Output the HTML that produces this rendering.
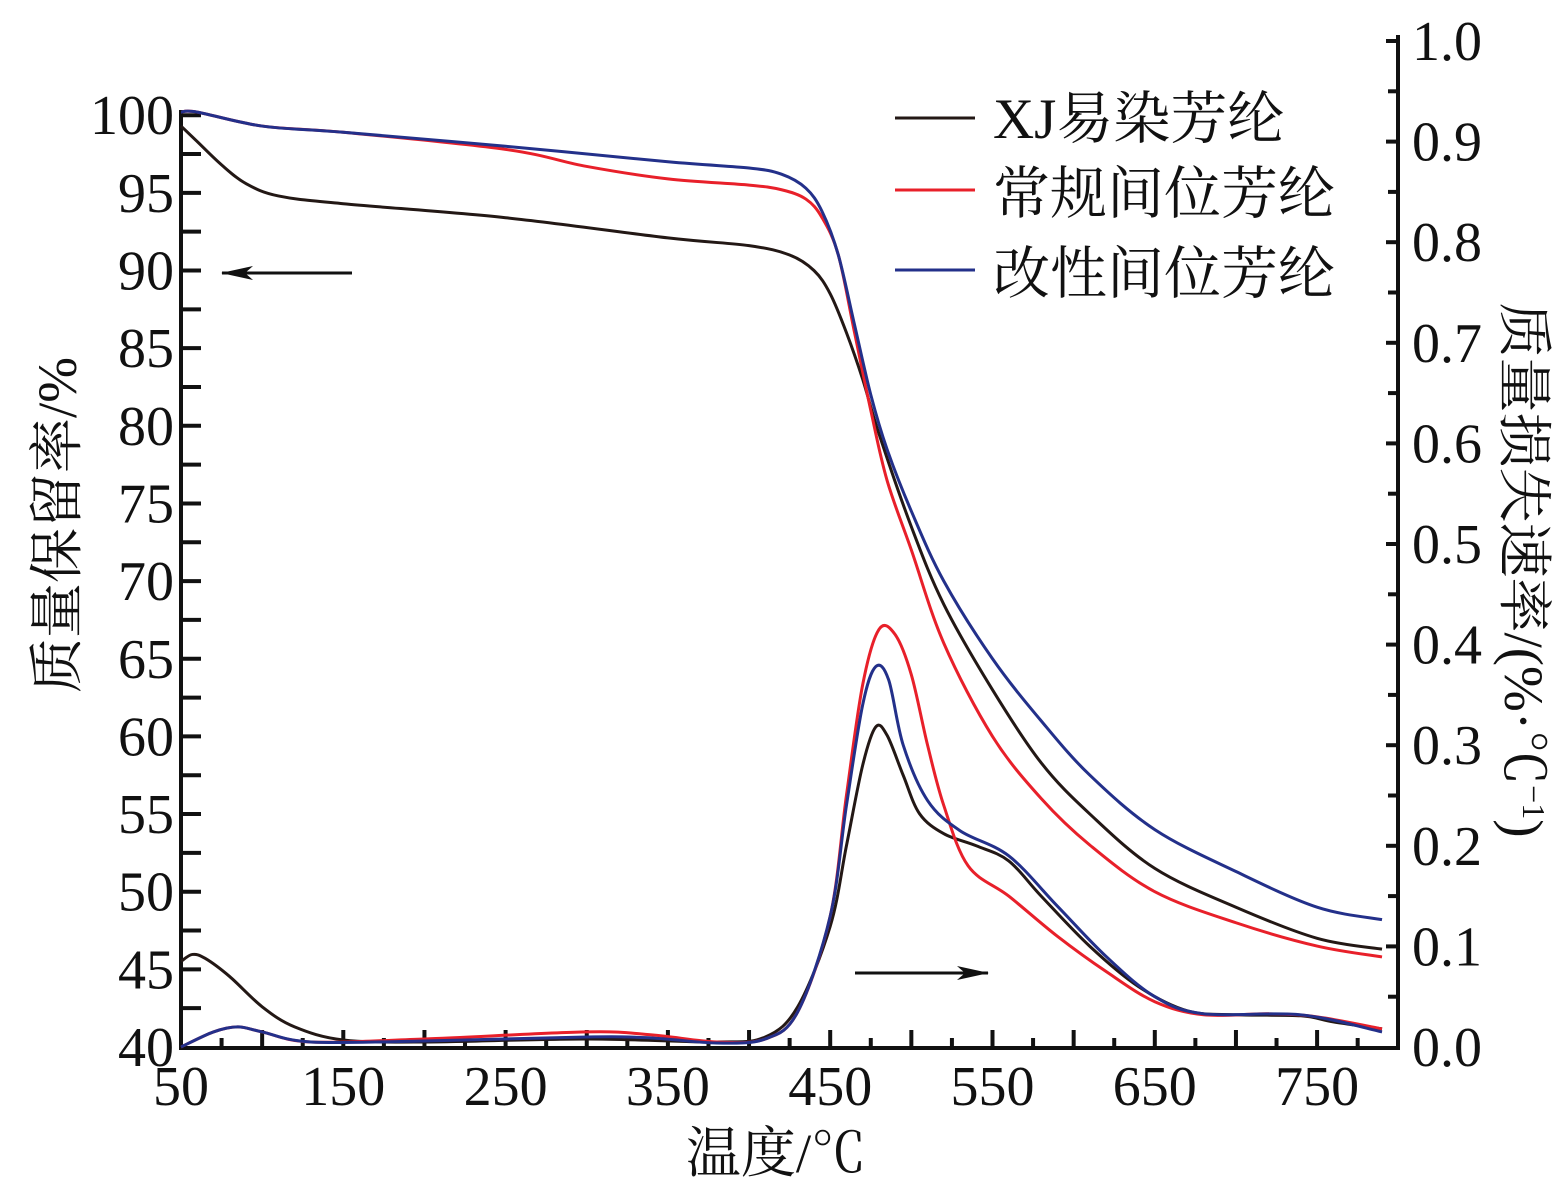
<!DOCTYPE html>
<html><head><meta charset="utf-8"><style>
body{margin:0;background:#fff}
svg text{font-family:"Liberation Serif","Noto Serif CJK SC",serif;fill:#111}
</style></head><body>
<svg id="s" width="1562" height="1193" viewBox="0 0 1562 1193" xmlns="http://www.w3.org/2000/svg">
<defs><marker id="ah" markerWidth="32" markerHeight="16" refX="31" refY="8" orient="auto" markerUnits="userSpaceOnUse"><path d="M0,1 L32,8 L0,15 L8,8z" fill="#111"/></marker></defs>
<g id="ax" stroke="#111" stroke-width="4" fill="none">
<path d="M181,110 V1048 H1398 V35"/>
</g>
<g id="ticks" stroke="#111" stroke-width="4"></g>
<g id="lab" font-size="56"></g>
<g id="curves" fill="none" stroke-width="3"></g>
<line x1="352" y1="273" x2="222" y2="273" stroke="#111" stroke-width="3" marker-end="url(#ah)"/>
<line x1="855" y1="973" x2="988" y2="973" stroke="#111" stroke-width="3" marker-end="url(#ah)"/>
<g font-size="57">
<line x1="895" y1="118" x2="975" y2="118" stroke="#231815" stroke-width="3"/>
<line x1="895" y1="190" x2="975" y2="190" stroke="#e8202a" stroke-width="3"/>
<line x1="895" y1="270" x2="975" y2="270" stroke="#23308a" stroke-width="3"/>
<text x="993" y="138">XJ易染芳纶</text>
<text x="993" y="213">常规间位芳纶</text>
<text x="993" y="293">改性间位芳纶</text>
</g>
<text font-size="55" x="776" y="1172" text-anchor="middle">温度/℃</text>
<text font-size="55" transform="translate(76,525) rotate(-90)" text-anchor="middle">质量保留率/%</text>
<text font-size="55" transform="translate(1505,570) rotate(90)" text-anchor="middle">质量损失速率/(%·℃<tspan baseline-shift="super" font-size="32">−1</tspan>)</text>
</svg>
<script>
const NS="http://www.w3.org/2000/svg";
const X=t=>181+(t-50)*1.623, YL=v=>1047-(v-40)*15.53, YR=v=>1047-v*1006;
const tk=document.getElementById('ticks'),lb=document.getElementById('lab'),cv=document.getElementById('curves');
function ln(a,b,c,d){const e=document.createElementNS(NS,'line');e.setAttribute('x1',a);e.setAttribute('y1',b);e.setAttribute('x2',c);e.setAttribute('y2',d);tk.appendChild(e);}
function tx(s,x,y,anc){const e=document.createElementNS(NS,'text');e.setAttribute('x',x);e.setAttribute('y',y);e.setAttribute('text-anchor',anc);e.textContent=s;lb.appendChild(e);}
for(let t=75;t<=775;t+=25){const maj=(t%50==0);ln(X(t),1048,X(t),1048-(maj?18:10));}
for(let t=50;t<=750;t+=100)tx(t,X(t),1105,'middle');
for(let v=42.5;v<=100;v+=2.5){ln(181,YL(v),201,YL(v));}
for(let v=40;v<=100;v+=5)tx(v,174,YL(v)+19,'end');
for(let v=0.05;v<=1.001;v+=0.05){const maj=Math.abs(v*10-Math.round(v*10))<0.01;ln(1398,YR(v),1398-(maj?12:10),YR(v));}
for(let i=0;i<=10;i++)tx((i/10).toFixed(1),1412,YR(i/10)+19,'start');
function path(pts,fy,col){let p=pts.map(a=>[X(a[0]),fy(a[1])]);let d='M'+p[0][0]+','+p[0][1];
for(let i=0;i<p.length-1;i++){const p0=p[i-1]||p[i],p1=p[i],p2=p[i+1],p3=p[i+2]||p2;
d+=` C${p1[0]+(p2[0]-p0[0])/6},${p1[1]+(p2[1]-p0[1])/6} ${p2[0]-(p3[0]-p1[0])/6},${p2[1]-(p3[1]-p1[1])/6} ${p2[0]},${p2[1]}`;}
const e=document.createElementNS(NS,'path');e.setAttribute('d',d);e.setAttribute('stroke',col);cv.appendChild(e);}
const K='#231815',R='#e8202a',B='#23308a';
path([[50,99.3],[60,98.3],[75,96.8],[90,95.6],[110,94.8],[150,94.3],[250,93.4],[350,92.1],[400,91.6],[425,91],[440,90],[450,88.5],[460,86],[470,83],[480,79.5],[500,73.5],[520,68.5],[550,63],[580,58.3],[610,55],[650,51.5],[700,49],[750,47],[790,46.3]],YL,K);
path([[50,100.2],[60,100.2],[100,99.3],[150,98.9],[250,97.8],[300,96.7],[350,95.9],[400,95.5],[420,95.2],[435,94.6],[445,93.4],[455,91],[465,86],[475,81],[485,76.5],[500,72],[520,66],[550,60],[580,56],[610,53],[650,50],[700,48],[750,46.5],[790,45.8]],YL,R);
path([[50,100.2],[60,100.2],[100,99.3],[150,98.9],[250,98],[350,97],[400,96.6],[420,96.2],[435,95.3],[445,93.8],[455,91],[465,86.5],[475,82],[485,78.5],[500,74.5],[520,70],[550,65],[580,61],[610,57.5],[650,54],[700,51.3],[750,49],[790,48.2]],YL,B);
path([[50,0.085],[57,0.092],[65,0.088],[80,0.07],[100,0.04],[120,0.02],[150,0.007],[200,0.005],[300,0.008],[380,0.005],[410,0.01],[430,0.04],[450,0.12],[460,0.2],[470,0.28],[478,0.318],[485,0.31],[495,0.27],[505,0.232],[520,0.212],[540,0.2],[560,0.185],[580,0.15],[610,0.1],[640,0.06],[670,0.036],[700,0.032],[740,0.031],[760,0.025],[790,0.018]],YR,K);
path([[50,0],[70,0.015],[85,0.02],[100,0.015],[130,0.005],[200,0.008],[300,0.015],[340,0.012],[380,0.005],[410,0.008],[430,0.035],[450,0.13],[460,0.25],[470,0.36],[480,0.415],[490,0.41],[500,0.37],[510,0.3],[520,0.24],[535,0.18],[560,0.15],[590,0.11],[620,0.075],[650,0.045],[680,0.032],[720,0.033],[750,0.03],[790,0.018]],YR,R);
path([[50,0],[70,0.015],[85,0.02],[100,0.015],[130,0.005],[200,0.006],[300,0.01],[340,0.009],[380,0.004],[410,0.008],[430,0.035],[450,0.13],[460,0.24],[470,0.34],[478,0.378],[486,0.365],[495,0.3],[510,0.245],[530,0.215],[560,0.19],[590,0.14],[620,0.09],[650,0.05],[680,0.033],[740,0.032],[790,0.015]],YR,B);
</script>
</body></html>
